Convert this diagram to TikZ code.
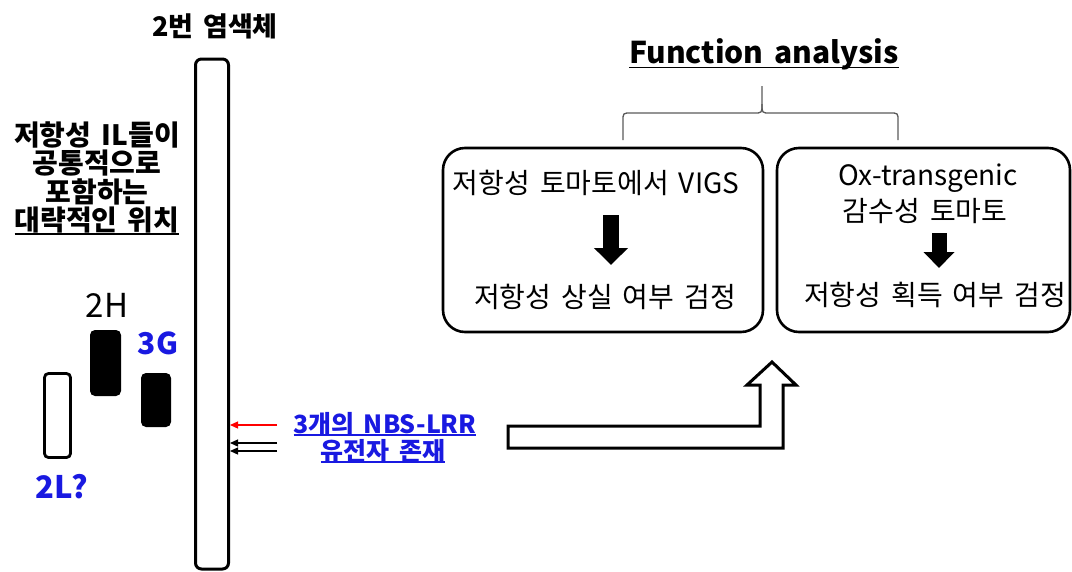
\documentclass[tikz,border=0pt]{standalone}
\usepackage{fontspec}
\setmainfont{Noto Sans CJK KR}[WordSpace=1.6]
\usetikzlibrary{arrows.meta}

\definecolor{labblue}{RGB}{25,25,225}
\definecolor{bracegray}{RGB}{90,90,90}

\newsavebox{\ulinebox}
\newcommand{\ulline}[2][4pt]{\sbox{\ulinebox}{#2}\rlap{\rule[-#1]{\wd\ulinebox}{1.6pt}}\usebox{\ulinebox}}

\tikzset{
    txt/.style={inner sep=0pt, align=center},
    bluelab/.style={txt, text=labblue, font=\bfseries\fontsize{#1}{#1}\selectfont},
    blkbox/.style={fill=black, rounded corners=5pt, inner sep=0pt},
    openbox/.style={draw, fill=white, line width=2.8pt, rounded corners=4pt, inner sep=0pt},
    funcbox/.style={draw, line width=2.6pt, rounded corners=22pt, inner sep=0pt},
    boxtxt/.style={txt, font=\fontsize{28}{32}\selectfont},
    thinarr/.style={line width=1.2pt, -{Triangle[length=8pt, width=7pt]}},
    downarr/.style={line width=#1, -{Triangle[length=17pt, width=33pt]}},
}

\begin{document}
\begin{tikzpicture}[x=1pt, y=-1pt]
    \useasboundingbox (0,0) rectangle (1072,571);

    % chromosome and loci
    \node[openbox, line width=3pt, rounded corners=6pt, minimum width=33pt, minimum height=510pt] (chr) at (212,314) {};
    \node[txt, font=\bfseries\fontsize{27}{30}\selectfont] (chrlab) at (215,26) {2번 염색체};
    \node[txt, font=\bfseries\fontsize{28}{28.5}\selectfont] (illoc) at (97,178) {저항성 IL들이\\공통적으로\\포함하는\\\ulline{대략적인 위치}};

    \node[blkbox, minimum width=31pt, minimum height=66pt] (loc2h) at (105.5,363) {};
    \node[blkbox, minimum width=30pt, minimum height=54pt] (loc3g) at (156,400) {};
    \node[openbox, minimum width=26pt, minimum height=84pt] (loc2l) at (57.5,415.5) {};
    \node[txt, font=\fontsize{33}{34}\selectfont] (lab2h) at (107,305) {2H};
    \node[bluelab=30] (lab3g) at (158,343) {3G};
    \node[bluelab=31] (lab2l) at (62,487) {2L?};

    % NBS-LRR genes
    \node[bluelab=25] (nbs1) at (385,424) {\ulline[3pt]{3개의 NBS-LRR}};
    \node[bluelab=25] (nbs2) at (383,451) {\ulline[3pt]{유전자 존재}};
    \coordinate (g1) at (277,425);
    \coordinate (g2) at (277,443);
    \coordinate (g3) at (277,451);
    \draw[thinarr, red] (g1) -- (chr.east |- g1);
    \draw[thinarr] (g2) -- (chr.east |- g2);
    \draw[thinarr] (g3) -- (chr.east |- g3);

    % hollow bent arrow
    \draw[line width=3pt, fill=white, line join=miter]
        (508,426) -- (760,426) -- (760,385) -- (747,385) -- (772,362)
        -- (796,385) -- (783,385) -- (783,448) -- (508,448) -- cycle;

    % function analysis
    \node[txt, font=\bfseries\fontsize{30}{32}\selectfont] (func) at (764,54) {\ulline[5pt]{Function analysis}};
    \draw[bracegray, line width=1.3pt]
        (623,140) -- (623,121) .. controls (623,113) .. (631,113) -- (754,113)
        .. controls (762,113) .. (762,104) -- (762,86);
    \draw[bracegray, line width=1.3pt]
        (762,104) .. controls (762,113) .. (770,113) -- (890,113)
        .. controls (898,113) .. (898,121) -- (898,140);

    \node[funcbox, minimum width=320pt, minimum height=184pt] (vigsbox) at (603,240) {};
    \node[funcbox, minimum width=293pt, minimum height=184pt] (oxbox) at (923.5,240) {};

    \node[boxtxt] (vigs) at (596,183) {저항성 토마토에서 VIGS};
    \node[boxtxt] (loss) at (605,297) {저항성 상실 여부 검정};
    \node[boxtxt] (ox1) at (928,178) {Ox-transgenic};
    \node[boxtxt] (ox2) at (925,211) {감수성 토마토};
    \node[boxtxt] (gain) at (935,295) {저항성 획득 여부 검정};

    \draw[downarr=16pt] (611,215) -- (611,265);
    \draw[line width=15pt, -{Triangle[length=16pt, width=30pt]}] (939,233) -- (939,268);
\end{tikzpicture}
\end{document}
